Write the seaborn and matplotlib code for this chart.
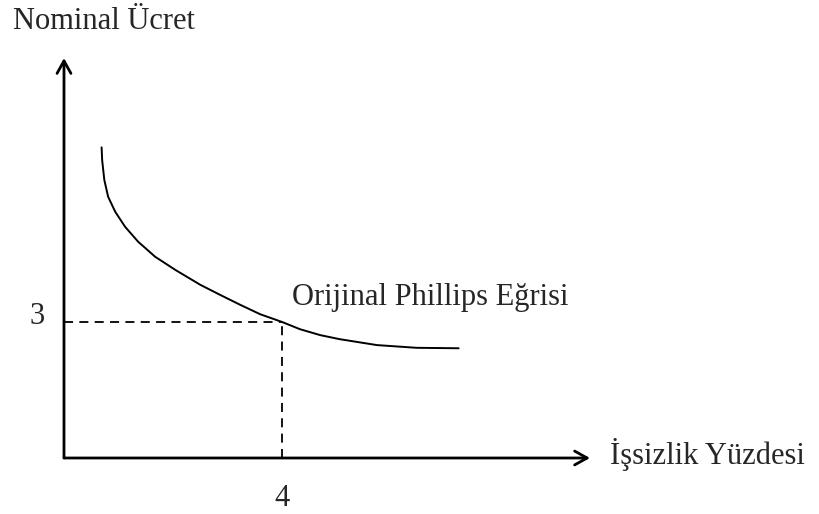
import seaborn as sns
import matplotlib.pyplot as plt
import pandas as pd

# points (unemployment %, nominal wage)
unemployment = [0.69, 0.70, 0.74, 0.81, 0.94, 1.12, 1.36, 1.67, 2.04, 2.50, 2.86,
                3.23, 3.60, 4.00, 4.33, 4.70, 5.06, 5.74, 6.47, 7.24]
nominal_wage = [6.85, 6.57, 6.13, 5.76, 5.43, 5.10, 4.77, 4.44, 4.15, 3.82, 3.60,
                3.38, 3.17, 3.00, 2.84, 2.71, 2.62, 2.49, 2.43, 2.42]

# marked point on the curve
point_x = 4
point_y = 3

axis_labels = ["İşsizlik Yüzdesi", "Nominal Ücret"]
curve_label = "Orijinal Phillips Eğrisi"

sns.set_style("white")
plt.rcParams["font.family"] = ["Liberation Serif", "DejaVu Serif"]

fig = plt.figure(figsize=(8.2, 5.14), dpi=100)
ax = fig.add_axes([0, 0, 1, 1])
ax.set_xlim(-1.174, 13.87)
ax.set_ylim(-1.235, 10.10)
ax.axis("off")

df = pd.DataFrame({"issizlik": unemployment, "ucret": nominal_wage})
sns.lineplot(data=df, x="issizlik", y="ucret", color="black", lw=1.4, sort=False, ax=ax)

# dashed guides to the axes
dash = (0, (5, 3.5))
ax.plot([0, point_x], [point_y, point_y], color="black", lw=1.3, linestyle=dash)
ax.plot([point_x, point_x], [0, point_y], color="black", lw=1.3, linestyle=dash)

# axes with open arrow heads
arrow = dict(arrowstyle="->,head_length=0.9,head_width=0.5", color="black", lw=2, shrinkA=0, shrinkB=0)
ax.annotate("", xy=(9.65, 0), xytext=(0, 0), arrowprops=arrow)
ax.annotate("", xy=(0, 8.82), xytext=(0, 0), arrowprops=arrow)

fs = 22
ax.text(-0.94, 9.62, axis_labels[1], fontsize=fs, ha="left", va="center")
ax.text(10.02, 0.07, axis_labels[0], fontsize=fs, ha="left", va="center")
ax.text(4.18, 3.53, curve_label, fontsize=fs, ha="left", va="center")
ax.text(-0.50, 3.12, str(point_y), fontsize=fs, ha="center", va="center")
ax.text(point_x, -0.90, str(point_x), fontsize=fs, ha="center", va="center")

fig.savefig("out.png", dpi=100)
